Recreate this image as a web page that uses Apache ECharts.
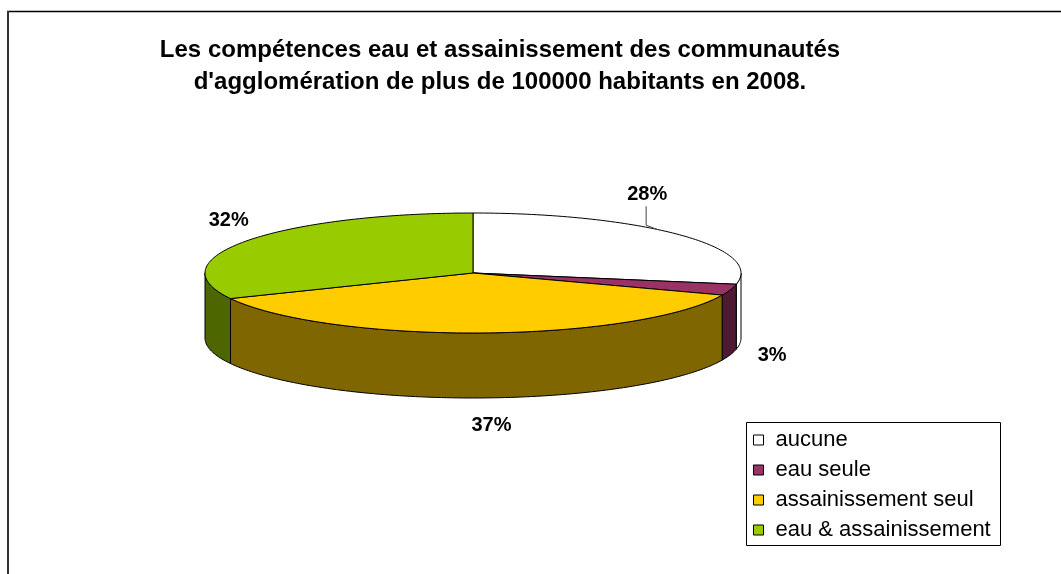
<!DOCTYPE html>
<html>
<head>
<meta charset="utf-8">
<script src="https://cdn.jsdelivr.net/npm/echarts@6/dist/echarts.min.js"></script>
<style>
  html, body { margin: 0; padding: 0; background: #fff; }
  #chart { width: 1061px; height: 574px; }
</style>
</head>
<body>
<div id="chart"></div>
<script>
const categories = ['aucune', 'eau seule', 'assainissement seul', 'eau & assainissement']
const values = [28, 3, 37, 32]
const titleLines = [
  'Les compétences eau et assainissement des communautés',
  "d'agglomération de plus de 100000 habitants en 2008.",
]

const topColors = ['#FFFFFF', '#993366', '#FFCC00', '#99CC00']
const sideColors = ['#FFFFFF', '#4D1933', '#806600', '#4D6600']
const font = "'Liberation Sans', Arial, sans-serif"

// 3D pie geometry (ellipse + wall height)
const cx = 473, cy = 273, rx = 268, ry = 60, depth = 65
// label tweaks as placed in the original; the first one has a leader line
const labelNudge = { 0: [-57, -15], 1: [11, 0], 2: [9, -2], 3: [9, 1] }

const total = values.reduce((a, b) => a + b, 0)

function pt(t, dy = 0) {
  return [cx + rx * Math.sin(t), cy - ry * Math.cos(t) + dy]
}
function arc(a, b, dy) {
  const n = Math.max(2, Math.ceil((b - a) / 0.02))
  const pts = []
  for (let i = 0; i <= n; i++) pts.push(pt(a + (b - a) * i / n, dy))
  return pts
}

function renderItem(params, api) {
  const i = params.dataIndex
  let start = 0
  for (let k = 0; k < i; k++) start += values[k]
  const v = api.value(0)
  const t0 = start / total * 2 * Math.PI
  const t1 = (start + v) / total * 2 * Math.PI
  const children = []

  // visible front wall
  const a = Math.max(t0, Math.PI / 2)
  const b = Math.min(t1, Math.PI * 1.5)
  if (a < b) {
    children.push({
      type: 'polygon',
      shape: { points: arc(a, b, 0).concat(arc(a, b, depth).reverse()) },
      style: { fill: sideColors[i], stroke: '#000', lineWidth: 1 },
    })
  }
  // top face
  children.push({
    type: 'polygon',
    shape: { points: [[cx, cy]].concat(arc(t0, t1, 0)) },
    style: { fill: topColors[i], stroke: '#000', lineWidth: 1 },
  })

  // percent label
  const tm = (t0 + t1) / 2
  let lx = cx + 300 * Math.sin(tm)
  let ly = cy - 100 * Math.cos(tm) + (Math.cos(tm) < 0 ? 55 : 0)
  const nudge = labelNudge[i] || [0, 0]
  lx += nudge[0]
  ly += nudge[1]
  if (i === 0) {
    const s = Math.max(-1, Math.min(1, (lx + 10 - cx) / rx))
    const end = pt(Math.asin(s))
    children.push({
      type: 'polyline',
      shape: { points: [[lx - 1, ly + 12], [lx - 1, ly + 31], end] },
      style: { stroke: '#444', lineWidth: 1, fill: null },
    })
  }
  children.push({
    type: 'text',
    x: lx,
    y: ly,
    style: {
      text: Math.round(v / total * 100) + '%',
      fontFamily: font,
      fontSize: 20,
      fontWeight: 'bold',
      fill: '#000',
      align: 'center',
      verticalAlign: 'middle',
      textAlign: 'center',
      textVerticalAlign: 'middle',
    },
  })
  return { type: 'group', children }
}

const chart = echarts.init(document.getElementById('chart'))
chart.setOption({
  animation: false,
  title: {
    text: titleLines.join('\n'),
    left: 495,
    top: 29,
    textAlign: 'center',
    textStyle: { fontFamily: font, fontSize: 24, fontWeight: 'bold', lineHeight: 32, color: '#000' },
  },
  legend: {
    orient: 'vertical',
    left: 753,
    top: 429,
    padding: 0,
    itemWidth: 10,
    itemHeight: 10,
    itemGap: 8,
    icon: 'rect',
    selectedMode: false,
    itemStyle: { borderColor: '#000', borderWidth: 1 },
    textStyle: { fontFamily: font, fontSize: 22, lineHeight: 20, color: '#000', padding: [0, 0, 0, 7] },
    data: categories,
  },
  graphic: [
    { type: 'line', shape: { x1: 7, y1: 11.5, x2: 1061, y2: 11.5 }, style: { stroke: '#000', lineWidth: 1.3 } },
    { type: 'line', shape: { x1: 8, y1: 11, x2: 8, y2: 574 }, style: { stroke: '#333', lineWidth: 2 } },
    { type: 'rect', shape: { x: 746.5, y: 422.5, width: 254, height: 123 }, style: { fill: null, stroke: '#000', lineWidth: 1 } },
  ],
  series: [
    {
      type: 'custom',
      coordinateSystem: 'none',
      renderItem,
      silent: true,
      data: values,
    },
    {
      // only feeds the legend
      type: 'pie',
      radius: [0, 0],
      center: [-100, -100],
      silent: true,
      label: { show: false },
      labelLine: { show: false },
      data: categories.map((name, i) => ({ name, value: values[i], itemStyle: { color: topColors[i] } })),
    },
  ],
})
</script>
</body>
</html>
